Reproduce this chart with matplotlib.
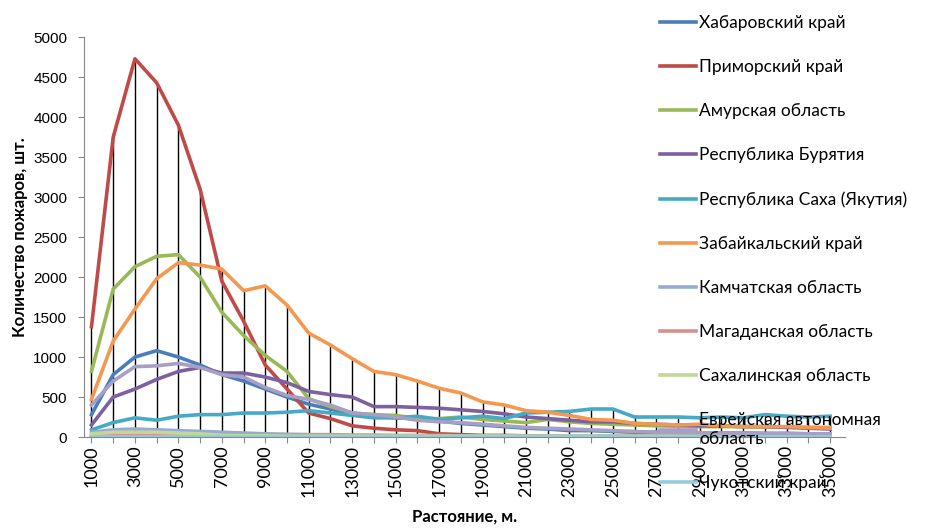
import numpy as np
import matplotlib.pyplot as plt
from matplotlib.lines import Line2D

# DATA
distance = list(range(1000, 36000, 1000))

khabarovsk = [280, 780, 1000, 1080, 1000, 900, 780, 700, 600, 500, 410, 350, 280, 260, 240,
              230, 200, 170, 150, 130, 110, 100, 80, 80, 70, 60, 60, 55, 50, 50, 50, 45, 45, 40, 40]
primorsky = [1380, 3750, 4730, 4430, 3900, 3100, 1950, 1450, 900, 600, 300, 230, 140, 110, 90,
             80, 40, 30, 20, 20, 15, 12, 10, 10, 10, 10, 10, 10, 10, 10, 10, 10, 10, 10, 10]
amur = [820, 1850, 2130, 2260, 2280, 2000, 1560, 1270, 1020, 820, 480, 380, 300, 280, 270,
        230, 230, 250, 220, 200, 180, 220, 190, 170, 160, 150, 140, 135, 130, 130, 130, 125, 125, 120, 120]
buryatia = [150, 500, 600, 720, 820, 870, 800, 800, 750, 680, 570, 530, 500, 380, 380,
            370, 360, 340, 320, 290, 250, 230, 210, 190, 190, 170, 160, 150, 140, 140, 130, 130, 120, 110, 100]
sakha = [90, 180, 240, 210, 260, 280, 280, 300, 300, 310, 330, 300, 270, 240, 240,
         260, 220, 240, 260, 230, 300, 310, 320, 350, 350, 250, 250, 250, 240, 250, 240, 280, 260, 250, 260]
zabaikal = [470, 1200, 1600, 1980, 2180, 2150, 2100, 1830, 1890, 1650, 1300, 1150, 980, 820, 780,
            700, 610, 550, 440, 400, 330, 310, 270, 220, 210, 170, 160, 150, 160, 140, 130, 130, 130, 120, 110]
kamchatka = [60, 90, 100, 90, 80, 70, 60, 50, 40, 35, 30, 30, 25, 25, 20,
             20, 20, 15, 15, 15, 10, 10, 10, 10, 10, 10, 10, 10, 10, 10, 10, 10, 10, 10, 10]
magadan = [20, 30, 30, 25, 20, 20, 15, 15, 10, 10, 10, 10, 10, 10, 10,
           10, 10, 10, 10, 10, 5, 5, 5, 5, 5, 5, 5, 5, 5, 5, 5, 5, 5, 5, 5]
sakhalin = [40, 60, 60, 60, 50, 40, 20, 15, 15, 10, 10, 10, 10, 10, 10,
            10, 10, 10, 10, 10, 10, 10, 10, 10, 10, 10, 10, 10, 10, 10, 10, 10, 10, 10, 10]
evr = [400, 700, 880, 890, 920, 870, 780, 750, 620, 520, 470, 400, 300, 280, 250,
       210, 190, 180, 160, 140, 120, 110, 100, 90, 80, 70, 60, 60, 55, 50, 50, 45, 45, 40, 40]
chukotka = [5, 5, 5, 5, 5, 5, 5, 5, 5, 5, 5, 5, 5, 5, 5,
            5, 5, 5, 5, 5, 5, 5, 5, 5, 5, 5, 5, 5, 5, 5, 5, 5, 5, 5, 5]

series = [
    ("Хабаровский край", khabarovsk, "#4A7EBB"),
    ("Приморский край", primorsky, "#BE4B48"),
    ("Амурская область", amur, "#98B954"),
    ("Республика Бурятия", buryatia, "#7D60A0"),
    ("Республика Саха (Якутия)", sakha, "#46AAC5"),
    ("Забайкальский край", zabaikal, "#F3994F"),
    ("Камчатская область", kamchatka, "#95ABD3"),
    ("Магаданская область", magadan, "#D6918F"),
    ("Сахалинская область", sakhalin, "#C3D69B"),
    ("Еврейская автономная\nобласть", evr, "#A8A0C4"),
    ("Чукотский край", chukotka, "#93CDDD"),
]

x = np.arange(1, len(distance) + 1)

fig = plt.figure(figsize=(9.32, 5.31), dpi=100)
ax = fig.add_axes([0.09, 0.177, 0.817, 0.753])

# drop lines from the highest series to the axis
top = np.max([s[1] for s in series], axis=0)
ax.vlines(x, 0, top, color="black", lw=1, zorder=1)

for name, vals, col in series:
    ax.plot(x, vals, color=col, lw=2.6, label=name, zorder=2, solid_joinstyle="round")

ax.set_xlim(0.65, 35.7)
ax.set_ylim(0, 5000)
ax.set_yticks(range(0, 5001, 500))
ax.set_yticklabels([str(v) for v in range(0, 5001, 500)], family="Liberation Sans", fontsize=11)
ax.set_xticks(x)
ax.set_xticklabels([str(d) if i % 2 == 0 else "" for i, d in enumerate(distance)],
                   rotation=90, family="Lato", fontsize=13)
ax.tick_params(axis="both", direction="out", length=4, color="#888888")
ax.tick_params(axis="y", pad=8)
ax.tick_params(axis="x", pad=2)

for s in ["top", "right"]:
    ax.spines[s].set_visible(False)
ax.spines["left"].set_color("#888888")
ax.spines["bottom"].set_color("#888888")

ax.set_xlabel("Растояние, м.", family="Lato", fontsize=12, fontweight="bold", labelpad=8)
ax.set_ylabel("Количество пожаров, шт.", family="Lato", fontsize=12, fontweight="bold", labelpad=4)

handles = [Line2D([0], [0], color=c, lw=2.6) for _, _, c in series]
labels = [n for n, _, _ in series]
fig.legend(handles, labels, loc="upper left", bbox_to_anchor=(0.695, 0.995), frameon=False,
           prop={"family": "Lato", "size": 12.5}, handlelength=2.1, handletextpad=0.15,
           labelspacing=1.62, borderaxespad=0.3)

fig.savefig("out.png", dpi=100)
